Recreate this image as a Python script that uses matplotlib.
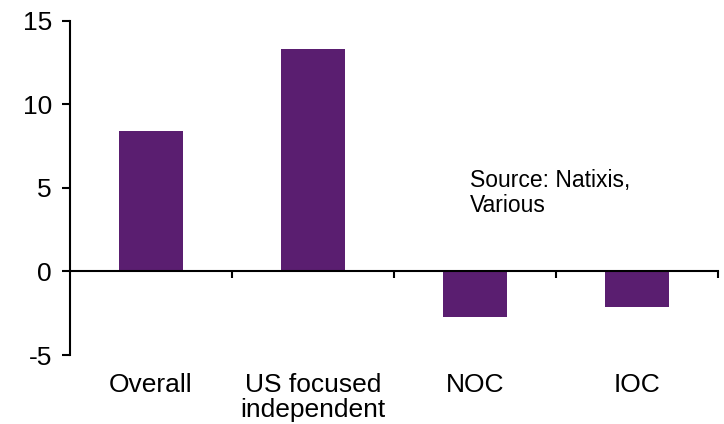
import matplotlib
matplotlib.use('Agg')
import matplotlib.pyplot as plt
import matplotlib.transforms as mtransforms

plt.rcParams['font.family'] = ['Liberation Sans', 'DejaVu Sans']
plt.rcParams['axes.unicode_minus'] = False

# Change by company type
categories = ['Overall', 'US focused\nindependent', 'NOC', 'IOC']
values = [8.4, 13.3, -2.75, -2.15]
y_ticks = [-5, 0, 5, 10, 15]

BAR_COLOR = '#5a1e70'

fig = plt.figure(figsize=(7.24, 4.24), dpi=100)
ax = fig.add_axes([0.0967, 0.1627, 0.895, 0.7885])

x = list(range(len(categories)))
ax.bar(x, values, width=0.4, color=BAR_COLOR, zorder=2)

ax.set_xlim(-0.5, len(categories) - 0.5)
ax.set_ylim(-5, 15)
ax.set_yticks(y_ticks)
ax.tick_params(axis='y', direction='out', length=6, width=1.5, labelsize=19, pad=7)

# x axis sits on the zero line, category separators tick downward
for side in ['top', 'right']:
    ax.spines[side].set_visible(False)
ax.spines['left'].set_linewidth(1.5)
ax.spines['bottom'].set_position(('data', 0))
ax.spines['bottom'].set_linewidth(1.5)
ax.set_xticks([i + 0.5 for i in x])
ax.set_xticklabels([])
ax.tick_params(axis='x', direction='out', length=5, width=1.5)

# category labels below the plot area
trans = mtransforms.blended_transform_factory(ax.transData, ax.transAxes)
for i, label in zip(x, categories):
    ax.text(i, -0.055, label, transform=trans, ha='center', va='top',
            fontsize=19, linespacing=1.05)

ax.text(0.617, 0.556, 'Source: Natixis,\nVarious', transform=ax.transAxes,
        ha='left', va='top', fontsize=16.5, linespacing=1.12)

fig.savefig('out.png', dpi=100)
